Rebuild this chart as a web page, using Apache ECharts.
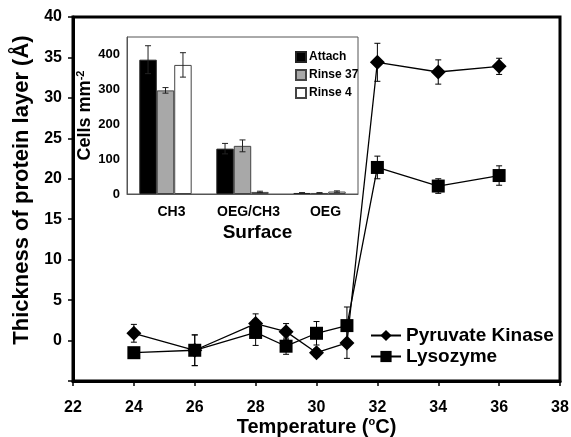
<!DOCTYPE html>
<html>
<head>
<meta charset="utf-8">
<script src="https://cdn.jsdelivr.net/npm/echarts@6/dist/echarts.min.js"></script>
<style>
html,body{margin:0;padding:0;background:#fff}
#chart{width:571px;height:437px}
</style>
</head>
<body>
<div id="chart"></div>
<script>

// main plot: thickness vs temperature
const temps = [24, 26, 28, 29, 30, 31, 32, 34, 36]
const pyruvate = [0.9, -1.2, 2.1, 1.1, -1.5, -0.3, 34.4, 33.2, 33.9]
const pyruvateErr = [1.1, 1.9, 1.2, 1.0, 0.5, 1.9, 2.35, 1.5, 1.0]
const lysozyme = [-1.5, -1.2, 1.0, -0.7, 0.9, 1.85, 21.4, 19.1, 20.4]
const lysozymeErr = [0.3, 1.9, 1.6, 1.0, 1.45, 2.3, 1.4, 0.9, 1.2]

// inset: cells per surface
const surfaces = ["CH3", "OEG/CH3", "OEG"]
const attach = [385, 130, 3]
const attachErr = [40, 15, 1]
const rinse37 = [297, 138, 3]
const rinse37Err = [8, 17, 1]
const rinse4 = [370, 6, 7]
const rinse4Err = [35, 2, 2]

const FONT = "Liberation Sans"
const catGap = 0.32

function errData(xs, vals, errs){
return xs.map((x, i) => [x, vals[i] - errs[i], vals[i] + errs[i]])
}

function mainErr(params, api){
const lo = api.coord([api.value(0), api.value(1)])
const hi = api.coord([api.value(0), api.value(2)])
const c = 3
const st = {stroke:"#000", lineWidth:1}
return {type:"group", children:[
{type:"line", shape:{x1:lo[0],y1:lo[1],x2:hi[0],y2:hi[1]}, style:st},
{type:"line", shape:{x1:lo[0]-c,y1:lo[1],x2:lo[0]+c,y2:lo[1]}, style:st},
{type:"line", shape:{x1:hi[0]-c,y1:hi[1],x2:hi[0]+c,y2:hi[1]}, style:st}
]}
}

function insetErr(k){
return function(params, api){
const band = api.size([1, 0])[0]
const barW = band * (1 - catGap) / 3
const off = (k - 1) * barW
const lo = api.coord([api.value(0), api.value(1)])
const hi = api.coord([api.value(0), api.value(2)])
const x = lo[0] + off
const c = 3
const st = {stroke:"#222", lineWidth:1}
return {type:"group", children:[
{type:"line", shape:{x1:x,y1:lo[1],x2:x,y2:hi[1]}, style:st},
{type:"line", shape:{x1:x-c,y1:lo[1],x2:x+c,y2:lo[1]}, style:st},
{type:"line", shape:{x1:x-c,y1:hi[1],x2:x+c,y2:hi[1]}, style:st}
]}
}
}

const chart = echarts.init(document.getElementById("chart"))

chart.setOption({

animation:false,
backgroundColor:"#fff",

grid:[
{left:73, right:11, top:17, bottom:56, outerBoundsMode:"none", show:true, borderColor:"#000", borderWidth:3, z:0},
{left:127, top:37, width:231, height:157, outerBoundsMode:"none", show:true, backgroundColor:"#fff", borderColor:"#555", borderWidth:1, z:10}
],

legend:[
{
data:["Pyruvate Kinase","Lysozyme"],
orient:"vertical",
left:365, top:321,
itemWidth:30, itemHeight:14, itemGap:2,
textStyle:{fontFamily:FONT, fontWeight:"bold", fontSize:19, color:"#000"}
},
{
data:["Attach","Rinse 37","Rinse 4"],
orient:"vertical",
left:290, top:46,
icon:"rect",
itemWidth:10, itemHeight:10, itemGap:6,
z:14,
textStyle:{fontFamily:FONT, fontWeight:"bold", fontSize:12, color:"#000", padding:[0,0,0,-2]}
}
],

xAxis:[
{
gridIndex:0,
type:"value",
min:22, max:38, interval:2,
name:"{t|Temperature (}{sup|o}{t|C)}",
nameLocation:"middle",
nameGap:35,
nameMoveOverlap:false,
nameTextStyle:{fontFamily:FONT, fontWeight:"bold", fontSize:20, color:"#000",
rich:{
t:{fontFamily:FONT, fontWeight:"bold", fontSize:20, color:"#000", lineHeight:22},
sup:{fontFamily:FONT, fontWeight:"bold", fontSize:11, color:"#000", lineHeight:22, verticalAlign:"top"}
}},
splitLine:{show:false},
axisLine:{onZero:false, lineStyle:{color:"#000", width:3}},
axisTick:{length:5, lineStyle:{color:"#000", width:1.5}},
axisLabel:{fontFamily:FONT, fontWeight:"bold", fontSize:16, color:"#000", margin:19}
},
{
gridIndex:1,
type:"category",
data:surfaces,
name:"Surface",
nameLocation:"middle",
nameGap:29,
nameTextStyle:{fontFamily:FONT, fontWeight:"bold", fontSize:19, color:"#000", padding:[0,0,0,30]},
axisLine:{onZero:false, lineStyle:{color:"#555", width:1}},
axisTick:{length:4, lineStyle:{color:"#555"}},
axisLabel:{interval:0, fontFamily:FONT, fontWeight:"bold", fontSize:14, color:"#000", margin:11, padding:[0,0,0,12]},
z:11
}
],

yAxis:[
{
gridIndex:0,
type:"value",
min:-5, max:40, interval:5,
name:"Thickness of protein layer (Å)",
nameLocation:"middle",
nameGap:34,
nameTextStyle:{fontFamily:FONT, fontWeight:"bold", fontSize:22, color:"#000", padding:[0,0,0,18]},
splitLine:{show:false},
axisLine:{onZero:false, lineStyle:{color:"#000", width:3}},
axisTick:{length:5, lineStyle:{color:"#000", width:1.5}},
axisLabel:{fontFamily:FONT, fontWeight:"bold", fontSize:16, color:"#000", margin:11,
formatter:v => v < 0 ? "" : v}
},
{
gridIndex:1,
type:"value",
min:0, max:450, interval:50,
name:"{t|Cells mm}{sup|-2}",
nameLocation:"middle",
nameGap:30,
nameTextStyle:{fontFamily:FONT, fontWeight:"bold", fontSize:18, color:"#000",
rich:{
t:{fontFamily:FONT, fontWeight:"bold", fontSize:18, color:"#000", lineHeight:20},
sup:{fontFamily:FONT, fontWeight:"bold", fontSize:11, color:"#000", lineHeight:20, verticalAlign:"top"}
}},
splitLine:{show:false},
axisLine:{show:true, onZero:false, lineStyle:{color:"#555", width:1}},
axisTick:{length:4, lineStyle:{color:"#555"}},
axisLabel:{fontFamily:FONT, fontWeight:"bold", fontSize:13, color:"#000", margin:7,
formatter:v => (v % 100 === 0 && v <= 400) ? v : ""},
z:11
}
],

series:[
{
name:"Pyruvate Kinase",
type:"line",
xAxisIndex:0, yAxisIndex:0,
data:temps.map((t, i) => [t, pyruvate[i]]),
symbol:"diamond", symbolSize:15,
itemStyle:{color:"#000"},
lineStyle:{color:"#000", width:1.3},
z:3
},
{
name:"Lysozyme",
type:"line",
xAxisIndex:0, yAxisIndex:0,
data:temps.map((t, i) => [t, lysozyme[i]]),
symbol:"rect", symbolSize:13,
itemStyle:{color:"#000"},
lineStyle:{color:"#000", width:1.3},
z:3
},
{
type:"custom",
xAxisIndex:0, yAxisIndex:0,
renderItem:mainErr,
data:errData(temps, pyruvate, pyruvateErr),
z:2
},
{
type:"custom",
xAxisIndex:0, yAxisIndex:0,
renderItem:mainErr,
data:errData(temps, lysozyme, lysozymeErr),
z:2
},
{
name:"Attach",
type:"bar",
xAxisIndex:1, yAxisIndex:1,
data:attach,
barGap:"0%", barCategoryGap:(catGap * 100) + "%",
itemStyle:{color:"#000", borderColor:"#222", borderWidth:1},
z:12
},
{
name:"Rinse 37",
type:"bar",
xAxisIndex:1, yAxisIndex:1,
data:rinse37,
itemStyle:{color:"#a8a8a8", borderColor:"#444", borderWidth:1},
z:12
},
{
name:"Rinse 4",
type:"bar",
xAxisIndex:1, yAxisIndex:1,
data:rinse4,
itemStyle:{color:"#fff", borderColor:"#444", borderWidth:1},
z:12
},
{
type:"custom",
xAxisIndex:1, yAxisIndex:1,
renderItem:insetErr(0),
data:errData([0,1,2], attach, attachErr),
z:13
},
{
type:"custom",
xAxisIndex:1, yAxisIndex:1,
renderItem:insetErr(1),
data:errData([0,1,2], rinse37, rinse37Err),
z:13
},
{
type:"custom",
xAxisIndex:1, yAxisIndex:1,
renderItem:insetErr(2),
data:errData([0,1,2], rinse4, rinse4Err),
z:13
}
]

})

</script>
</body>
</html>
